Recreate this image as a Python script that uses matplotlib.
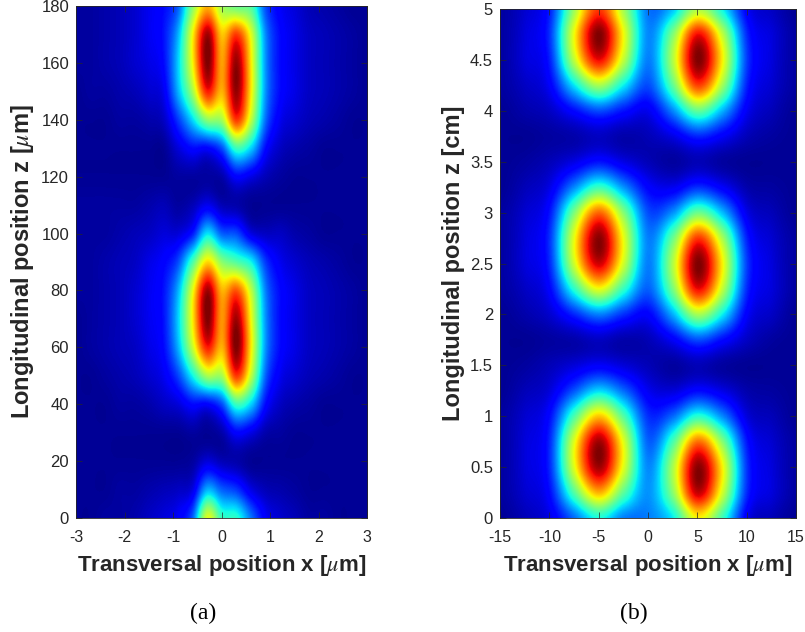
# plot.py - two longitudinal intensity maps, panels (a) and (b)
import numpy as np
import matplotlib
matplotlib.use("Agg")
import matplotlib.pyplot as plt

plt.rcParams["font.family"] = ["Liberation Sans", "DejaVu Sans"]
plt.rcParams["mathtext.fontset"] = "stix"
plt.rcParams["axes.unicode_minus"] = False

# ── Panel (a) ────────────────────────────────────────────────
a_x = [-3, -2.7, -2.4, -2.1, -1.8, -1.5, -1.2, -0.9, -0.6, -0.3, 0,
       0.3, 0.6, 0.9, 1.2, 1.5, 1.8, 2.1, 2.4, 2.7, 3]
a_z = list(range(0, 190, 10))

# intensity read along z, one list per x position
a_m30 = [.02, .02, .02, .02, .02, .02, .02, .02, .03, .03, .03, .03, .02, .02, .02, .02, .03, .03, .03]
a_m27 = [.02, .02, .02, .02, .02, .02, .03, .03, .03, .03, .03, .03, .02, .02, .02, .03, .03, .03, .03]
a_m24 = [.03, .02, .02, .02, .02, .03, .04, .04, .04, .04, .03, .03, .02, .02, .02, .03, .04, .04, .04]
a_m21 = [.03, .03, .02, .02, .03, .04, .05, .05, .05, .05, .04, .03, .02, .02, .03, .04, .05, .05, .05]
a_m18 = [.04, .03, .02, .02, .03, .05, .06, .07, .07, .06, .05, .03, .02, .02, .03, .05, .07, .07, .07]
a_m15 = [.06, .04, .02, .02, .04, .07, .09, .10, .10, .09, .06, .04, .02, .02, .04, .07, .09, .10, .10]
a_m12 = [.08, .05, .02, .02, .06, .10, .13, .14, .14, .12, .08, .05, .02, .02, .06, .10, .13, .14, .13]
a_m09 = [.11, .06, .02, .02, .08, .19, .30, .33, .30, .20, .08, .03, .03, .08, .18, .30, .33, .30, .22]
a_m06 = [.22, .09, .03, .03, .13, .37, .59, .66, .63, .44, .15, .05, .03, .13, .34, .55, .65, .65, .52]
a_m03 = [.62, .30, .08, .02, .12, .55, .88, 1.0, .97, .68, .35, .10, .03, .12, .52, .88, 1.0, .97, .72]
a_p00 = [.42, .22, .05, .04, .20, .55, .72, .75, .72, .52, .22, .05, .04, .20, .55, .72, .74, .70, .55]
a_p03 = [.40, .18, .04, .12, .42, .85, 1.0, .97, .82, .45, .20, .04, .12, .42, .85, .98, .98, .85, .48]
a_p06 = [.24, .09, .02, .09, .33, .58, .66, .64, .58, .37, .09, .02, .09, .33, .58, .66, .66, .62, .45]
a_p09 = [.11, .05, .02, .04, .13, .22, .27, .27, .25, .18, .06, .02, .05, .13, .23, .27, .27, .26, .20]
a_p12 = [.07, .04, .02, .03, .06, .10, .13, .13, .13, .10, .06, .02, .03, .06, .10, .13, .13, .13, .11]
a_p15 = [.05, .03, .02, .02, .04, .07, .09, .09, .09, .07, .04, .02, .02, .04, .07, .09, .09, .09, .08]
a_p18 = [.03, .02, .02, .02, .03, .05, .06, .06, .06, .05, .03, .02, .02, .03, .05, .06, .06, .06, .05]
a_p21 = [.03, .02, .02, .02, .02, .04, .05, .05, .05, .04, .02, .02, .02, .02, .04, .05, .05, .05, .04]
a_p24 = [.02, .02, .02, .02, .02, .03, .04, .04, .04, .03, .02, .02, .02, .02, .03, .04, .04, .04, .03]
a_p27 = [.02, .02, .02, .02, .02, .02, .03, .03, .03, .02, .02, .02, .02, .02, .02, .03, .03, .03, .02]
a_p30 = [.02, .02, .02, .02, .02, .02, .02, .02, .02, .02, .02, .02, .02, .02, .02, .02, .02, .02, .02]
a_cols = [a_m30, a_m27, a_m24, a_m21, a_m18, a_m15, a_m12, a_m09, a_m06, a_m03, a_p00,
          a_p03, a_p06, a_p09, a_p12, a_p15, a_p18, a_p21, a_p24, a_p27, a_p30]

# ── Panel (b) ────────────────────────────────────────────────
b_x = [-15, -12.5, -10, -7.5, -5, -2.5, 0, 2.5, 5, 7.5, 10, 12.5, 15]
b_z = [i * 0.25 for i in range(21)]

b_m150 = [.02, .03, .03, .03, .03, .02, .02, .02, .02, .03, .03, .03, .03, .02, .02, .02, .02, .03, .03, .03, .03]
b_m125 = [.05, .07, .08, .08, .07, .05, .03, .02, .04, .06, .08, .08, .07, .05, .03, .02, .04, .06, .08, .08, .07]
b_m100 = [.09, .13, .16, .16, .13, .08, .05, .03, .07, .12, .16, .17, .14, .09, .05, .03, .06, .11, .15, .17, .15]
b_m075 = [.23, .45, .62, .62, .44, .21, .08, .04, .16, .40, .60, .63, .50, .26, .09, .04, .13, .35, .58, .64, .54]
b_m050 = [.38, .72, .97, .97, .70, .34, .11, .06, .25, .63, .93, .99, .80, .42, .14, .06, .20, .55, .90, 1.0, .85]
b_m025 = [.25, .46, .62, .62, .45, .23, .08, .04, .17, .41, .60, .63, .51, .27, .09, .04, .14, .36, .58, .64, .55]
b_p000 = [.25, .27, .26, .22, .17, .10, .05, .05, .12, .22, .25, .25, .20, .12, .05, .05, .10, .20, .25, .26, .24]
b_p025 = [.36, .52, .56, .44, .23, .08, .03, .11, .30, .50, .57, .48, .27, .10, .03, .09, .26, .47, .57, .51, .32]
b_p050 = [.65, .94, .99, .79, .40, .13, .05, .20, .55, .90, 1.0, .85, .48, .17, .05, .16, .47, .84, 1.0, .90, .56]
b_p075 = [.42, .60, .65, .51, .26, .09, .03, .13, .36, .58, .65, .55, .31, .11, .03, .11, .30, .54, .65, .58, .37]
b_p100 = [.10, .16, .17, .14, .08, .04, .02, .06, .11, .16, .18, .15, .09, .04, .02, .05, .10, .15, .18, .16, .11]
b_p125 = [.05, .08, .08, .07, .05, .03, .02, .03, .06, .08, .08, .07, .05, .03, .02, .03, .05, .07, .08, .08, .06]
b_p150 = [.02, .03, .03, .03, .02, .02, .02, .02, .02, .03, .03, .03, .02, .02, .02, .02, .02, .03, .03, .03, .02]
b_cols = [b_m150, b_m125, b_m100, b_m075, b_m050, b_m025, b_p000,
          b_p025, b_p050, b_p075, b_p100, b_p125, b_p150]

a_xticks = [-3, -2, -1, 0, 1, 2, 3]
a_zticks = [0, 20, 40, 60, 80, 100, 120, 140, 160, 180]
b_xticks = [-15, -10, -5, 0, 5, 10, 15]
b_zticks = [0, 0.5, 1, 1.5, 2, 2.5, 3, 3.5, 4, 4.5, 5]

W, H = 805, 632
GREY = "#262626"


def draw_panel(box, xs, zs, cols, xticks, zticks, xlabel, ylabel, ylabel_x):
    left, top, right, bottom = box
    ax = fig.add_axes([left / W, 1 - bottom / H, (right - left) / W, (bottom - top) / H])
    data = np.array(cols).T
    dx = xs[1] - xs[0]
    dz = zs[1] - zs[0]
    ax.imshow(data, cmap="jet", vmin=0, vmax=1, origin="lower", aspect="auto",
              interpolation="catrom",
              extent=[xs[0] - dx / 2, xs[-1] + dx / 2, zs[0] - dz / 2, zs[-1] + dz / 2])
    ax.set_xlim(xs[0], xs[-1])
    ax.set_ylim(zs[0], zs[-1])
    ax.set_xticks(xticks)
    ax.set_yticks(zticks)
    ax.set_xticklabels([str(t) for t in xticks])
    ax.set_yticklabels([str(t) for t in zticks])
    ax.tick_params(direction="in", top=True, right=True, length=4, width=0.5, colors=GREY)
    ax.tick_params(axis="x", labelsize=11.5, pad=8.8)
    ax.tick_params(axis="y", labelsize=12, pad=5)
    for s in ax.spines.values():
        s.set_linewidth(0.6)
        s.set_color(GREY)
    fig.text((left + right) / 2 / W, 1 - 565 / H, xlabel, fontsize=16, fontweight="bold",
             color=GREY, ha="center", va="center")
    fig.text(ylabel_x / W, 1 - (top + bottom) / 2 / H, ylabel, fontsize=17, fontweight="bold",
             color=GREY, ha="center", va="center", rotation=90)
    return ax


fig = plt.figure(figsize=(W / 100, H / 100), dpi=100)

draw_panel((76, 6, 367, 518), a_x, a_z, a_cols, a_xticks, a_zticks,
           r"Transversal position x [$\mu$m]", r"Longitudinal position z [$\mu$m]", 23)
draw_panel((500, 9, 796, 518), b_x, b_z, b_cols, b_xticks, b_zticks,
           r"Transversal position x [$\mu$m]", "Longitudinal position z [cm]", 453)

fig.text(203 / W, 1 - 613 / H, "(a)", family="Liberation Serif", fontsize=17,
         ha="center", va="center", color="black")
fig.text(634 / W, 1 - 613 / H, "(b)", family="Liberation Serif", fontsize=17,
         ha="center", va="center", color="black")

fig.savefig("out.png", dpi=100)
